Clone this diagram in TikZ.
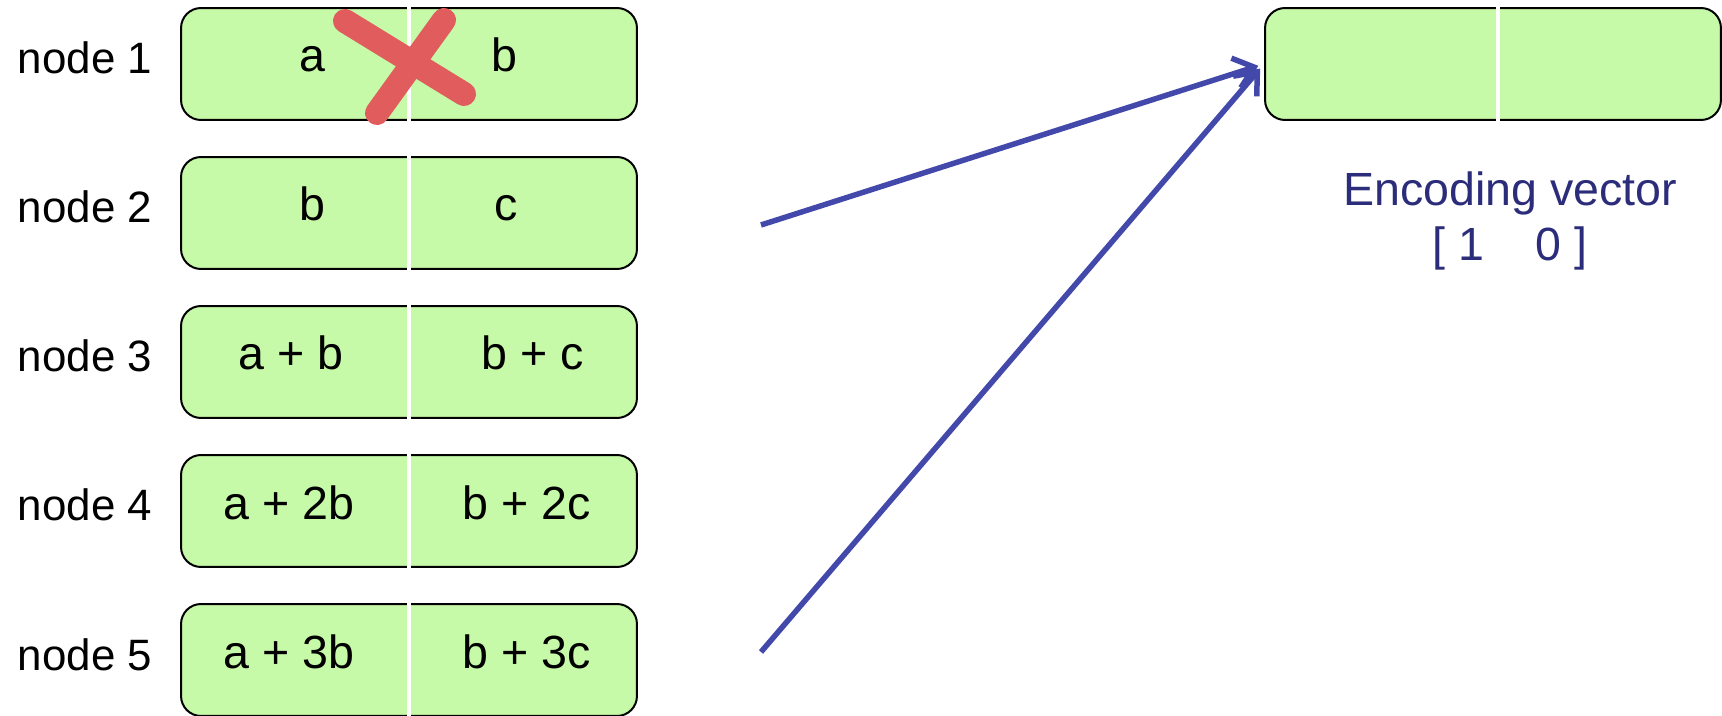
\documentclass[tikz,border=0pt]{standalone}
\usepackage{fontspec}
\setmainfont{Liberation Sans}
\usetikzlibrary{arrows.meta, positioning, calc}

\definecolor{boxgreen}{RGB}{198,250,168}
\definecolor{arrowblue}{RGB}{67,73,170}
\definecolor{textnavy}{RGB}{43,45,122}
\definecolor{crossred}{RGB}{225,93,93}

\begin{document}
\begin{tikzpicture}[x=0.02cm, y=-0.02cm,
    cell/.style={draw=black, line width=0.04cm, fill=boxgreen, rounded corners=0.4cm,
                 minimum width=9.12cm, minimum height=2.24cm, inner sep=0},
    divider/.style={white, line width=0.08cm},
    celltext/.style={anchor=base, inner sep=0, font=\fontsize{26.5}{32}\selectfont},
    nodelabel/.style={inner sep=0, font=\fontsize{25}{30}\selectfont},
    feed/.style={arrowblue, line width=0.11cm, -{Straight Barb[length=0.38cm, width=0.62cm]}, shorten >=0.12cm},
    cross/.style={crossred, line width=0.48cm, line cap=round}]
  \useasboundingbox (0,0) rectangle (1722,716);

  % packets stored on the five nodes
  \foreach \i/\y/\pa/\pb/\lx/\rx in {1/64/a/b/-97/95, 2/213/b/c/-97/97,
      3/362/{a + b}/{b + c}/-118/124, 4/511/{a + 2b}/{b + 2c}/-120/118,
      5/660/{a + 3b}/{b + 3c}/-120/118} {
    \node[cell] (n\i) at (409,\y) {};
    \draw[divider] ([yshift=0.05cm]n\i.north) -- ([yshift=-0.05cm]n\i.south);
    \node[celltext] (pa\i) at ($(n\i.center)+(\lx,8)$) {\pa};
    \node[celltext] (pb\i) at ($(n\i.center)+(\rx,8)$) {\pb};
    \node[nodelabel, base left=0.55cm of n\i, yshift=-0.2cm] (lab\i) {node \i};
  }

  % node 1 is lost
  \draw[cross] (345,21) -- (464,94);
  \draw[cross] (444,20) -- (377,113);

  % new packet and its encoding vector
  \node[cell] (enc) at (1493,64) {};
  \draw[divider] ([xshift=0.1cm, yshift=0.05cm]enc.north) -- ([xshift=0.1cm, yshift=-0.05cm]enc.south);
  \node[below=1.0cm of enc, xshift=0.34cm, align=center, inner sep=0, textnavy,
        font=\fontsize{26.5}{31.3}\selectfont] (vec) {Encoding vector\\{}[ 1\hspace{1.1em}0 ]};

  % two surviving packets feed the new one
  \coordinate (s1) at (761,225);
  \coordinate (s2) at (761,652);
  \draw[feed] (s1) -- (enc.west);
  \draw[feed] (s2) -- (enc.west);
\end{tikzpicture}
\end{document}
